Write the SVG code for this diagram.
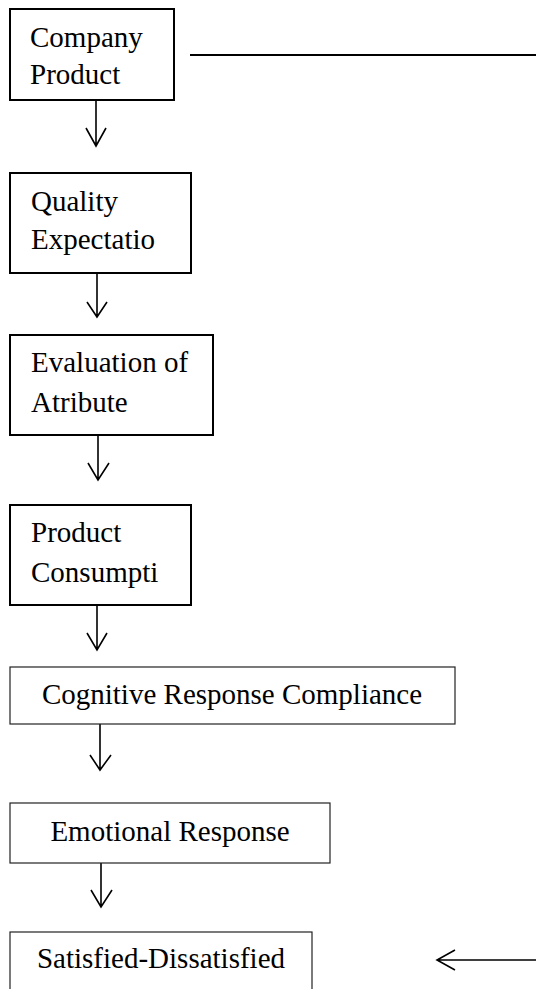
<svg xmlns="http://www.w3.org/2000/svg" width="536" height="989" viewBox="0 0 536 989">
<style>
.bx{fill:#fff;stroke:#000;stroke-width:2}
.bt{fill:#fff;stroke:#222;stroke-width:1.2}
text{font-family:"Liberation Serif","Times New Roman",serif;font-size:29px;fill:#000}
.c{text-anchor:middle}
.ln{fill:none;stroke:#000;stroke-width:1.6}
.lt{fill:none;stroke:#000;stroke-width:2.2}
</style>
<rect width="536" height="989" fill="#fff"/>
<g id="connectors">
<path class="ln" d="M96 100V146M86 128L96 146L106 128"/>
<path class="ln" d="M97 273V317M87 302L97 317L107 302"/>
<path class="ln" d="M98 435V480M88 463L98 480L109 463"/>
<path class="ln" d="M97 605V650M87 633L97 650L107 633"/>
<path class="ln" d="M100 724V770M90 755L100 770L111 755"/>
<path class="ln" d="M101 863V907M91 890L101 907L112 890"/>
<path class="lt" d="M190 55H536"/>
<path class="ln" d="M536 960H437M455 950L437 960L455 970"/>
</g>
<g id="n1"><rect class="bx" x="10" y="9" width="164" height="91"/><text x="30" y="47">Company</text><text x="30" y="84">Product</text></g>
<g id="n2"><rect class="bx" x="10" y="173" width="181" height="100"/><text x="31" y="211">Quality</text><text x="31" y="249">Expectatio</text></g>
<g id="n3"><rect class="bx" x="10" y="335" width="203" height="100"/><text x="31" y="372">Evaluation of</text><text x="31" y="412">Atribute</text></g>
<g id="n4"><rect class="bx" x="10" y="505" width="181" height="100"/><text x="31" y="542">Product</text><text x="31" y="582">Consumpti</text></g>
<g id="n5"><rect class="bt" x="10" y="667" width="445" height="57"/><text class="c" x="232" y="704">Cognitive Response Compliance</text></g>
<g id="n6"><rect class="bt" x="10" y="803" width="320" height="60"/><text class="c" x="170" y="841">Emotional Response</text></g>
<g id="n7"><rect class="bt" x="10" y="932" width="302" height="70"/><text class="c" x="161" y="968">Satisfied-Dissatisfied</text></g>
</svg>
